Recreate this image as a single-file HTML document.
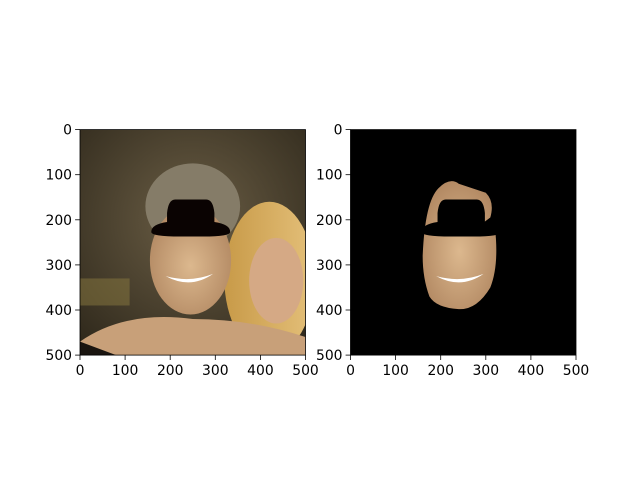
<!DOCTYPE html>
<html><head><meta charset="utf-8"><style>
body{margin:0;background:#fff}
svg text{font-family:"DejaVu Sans","Liberation Sans",sans-serif;font-size:13.9px;fill:#000}
</style></head><body>
<svg width="640" height="480" xmlns="http://www.w3.org/2000/svg">
<defs>
<radialGradient id="bg" cx="0.5" cy="0.4" r="0.8"><stop offset="0" stop-color="#6b5e45"/><stop offset="1" stop-color="#2a2418"/></radialGradient>
<radialGradient id="skin" cx="0.5" cy="0.55" r="0.6"><stop offset="0" stop-color="#dcb88e"/><stop offset="1" stop-color="#b08660"/></radialGradient>
<linearGradient id="hair2" x1="0" x2="1"><stop offset="0" stop-color="#c89a48"/><stop offset="1" stop-color="#e4c07a"/></linearGradient>
<clipPath id="c1"><rect x="0" y="0" width="500" height="500"/></clipPath>
<path id="hat" d="M235 155 h45 q15 0 18 30 v20 q35 5 35 22 q0 10 -60 10 h-50 q-65 0 -65 -10 q0 -17 35 -22 v-20 q3 -30 18 -30z"/>
</defs>
<g transform="translate(80,129.6) scale(0.451)" clip-path="url(#c1)">
<rect width="500" height="500" fill="url(#bg)"/>
<rect x="0" y="330" width="110" height="60" fill="#8a7a40" opacity="0.5"/>
<ellipse cx="250" cy="170" rx="105" ry="95" fill="#857c68"/>
<ellipse cx="420" cy="330" rx="100" ry="170" fill="url(#hair2)"/>
<ellipse cx="435" cy="335" rx="60" ry="95" fill="#d5a985"/>
<path d="M0 470 Q100 400 250 420 Q380 420 500 460 L500 500 L0 500Z" fill="#c8a079"/>
<ellipse cx="245" cy="290" rx="90" ry="120" fill="url(#skin)"/>
<path d="M190 325 Q245 355 295 320 Q245 340 190 325Z" fill="#fff"/>
<path d="M0 470 L80 500 L0 500Z" fill="#1a1510"/>
<use href="#hat" fill="#0a0302"/>
</g>
<g transform="translate(350.5,129.6) scale(0.451)" clip-path="url(#c1)">
<rect width="500" height="500" fill="#000"/>
<path d="M195 130 Q220 105 240 120 Q270 130 300 140 Q320 160 310 195 L290 210 L320 215 Q330 300 310 350 Q280 400 240 398 Q190 395 175 370 Q160 330 160 280 Q165 160 195 130Z" fill="url(#skin)"/>
<path d="M190 325 Q245 355 295 320 Q245 340 190 325Z" fill="#fff"/>
<use href="#hat" fill="#000"/>
</g>
<g id="axes"></g>
</svg>
<script>
const ticks=[0,100,200,300,400,500];
const tickLabels=["0","100","200","300","400","500"];
const panels=[{x0:80,name:'left'},{x0:350.5,name:'right'}];
const y0=129.6,size=225.5,ns="http://www.w3.org/2000/svg";
const g=document.getElementById('axes');
function mk(t,a){const e=document.createElementNS(ns,t);for(const k in a)e.setAttribute(k,a[k]);g.appendChild(e);return e;}
panels.forEach(p=>{
  const sx=v=>p.x0+v/500*size, sy=v=>y0+v/500*size;
  const r=mk('rect',{x:p.x0,y:y0,width:size,height:size,fill:'none',stroke:'#000','stroke-width':0.8});
  
  
  ticks.forEach((t,i)=>{
    mk('line',{x1:sx(t),x2:sx(t),y1:y0+size,y2:y0+size+4.9,stroke:'#000','stroke-width':0.8});
    const tx=mk('text',{x:sx(t),y:y0+size+20,'text-anchor':'middle'});tx.textContent=tickLabels[i];
    
    
    mk('line',{x1:p.x0-4.9,x2:p.x0,y1:sy(t),y2:sy(t),stroke:'#000','stroke-width':0.8});
    const ty=mk('text',{x:p.x0-8,y:sy(t)+5,'text-anchor':'end'});ty.textContent=tickLabels[i];
    
    
  });
});
</script>
</body></html>
